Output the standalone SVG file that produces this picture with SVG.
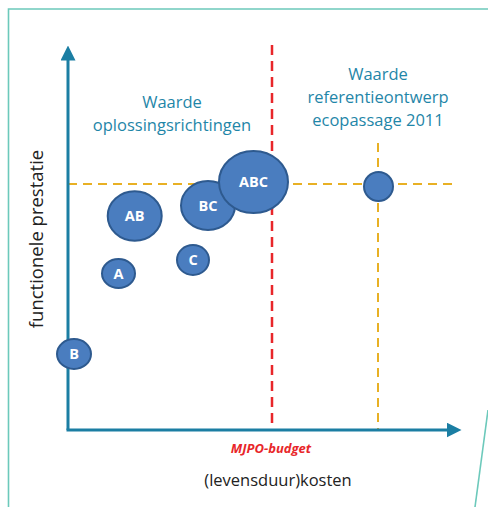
<svg xmlns="http://www.w3.org/2000/svg" width="488" height="507" viewBox="0 0 488 507">
  <style>
    .frame { fill: none; stroke: #6cc9bb; stroke-width: 1.6; }
    .axis { fill: none; stroke: #1b7ea3; stroke-width: 3; }
    .budget { fill: none; stroke: #e8262a; stroke-width: 2.5; stroke-dasharray: 10 6; }
    .ref { fill: none; stroke: #e8b024; stroke-width: 2; stroke-dasharray: 9 6; }
    .bubble { fill: #4a7dbf; stroke: #2e5a8f; stroke-width: 2; }
    .blabel { fill: #ffffff; font-family: "Open Sans", "Liberation Sans", sans-serif; font-weight: bold; font-size: 14.5px; text-anchor: middle; }
    .title { fill: #1f86a8; font-family: "Open Sans", "Liberation Sans", sans-serif; font-size: 16.5px; text-anchor: middle; }
    .axlabel { fill: #222222; font-family: "Open Sans", "Liberation Sans", sans-serif; font-size: 16.5px; text-anchor: middle; }
    .budgetlabel { fill: #e8262a; font-family: "Open Sans", "Liberation Sans", sans-serif; font-size: 13px; font-weight: bold; font-style: italic; text-anchor: middle; }
  </style>
  <defs>
    <marker id="arrow" viewBox="0 0 10 10" refX="5" refY="5" markerWidth="5" markerHeight="5" orient="auto" markerUnits="strokeWidth">
      <path d="M0,0 L10,5 L0,10 z" fill="#1b7ea3"/>
    </marker>
  </defs>

  <rect width="488" height="507" fill="#ffffff"/>

  <!-- slide frame -->
  <path class="frame" d="M8.5,507 L8.5,9 L488,9"/>
  <path class="frame" d="M488,410 L475,507"/>

  <!-- guide lines and axes -->
  <g id="connectors">
    <line class="budget" x1="272" y1="45" x2="272" y2="425"/>
    <line class="ref" x1="68" y1="184" x2="458" y2="184"/>
    <line class="ref" x1="378" y1="143" x2="378" y2="429"/>
    <path class="axis" d="M68,430 L68,53" marker-end="url(#arrow)"/>
    <path class="axis" d="M66.5,430 L454,430" marker-end="url(#arrow)"/>
  </g>

  <!-- labels -->
  <g id="title-solutions">
    <text class="title" x="172" y="108">Waarde</text>
    <text class="title" x="172" y="131">oplossingsrichtingen</text>
  </g>
  <g id="title-reference">
    <text class="title" x="378" y="80">Waarde</text>
    <text class="title" x="378" y="103">referentieontwerp</text>
    <text class="title" x="378" y="126">ecopassage 2011</text>
  </g>
  <g id="y-label">
    <text class="axlabel" transform="translate(43,239) rotate(-90)" style="font-size:18.5px">functionele prestatie</text>
  </g>
  <g id="x-label">
    <text class="axlabel" x="278" y="486">(levensduur)kosten</text>
  </g>
  <g id="budget-label">
    <text class="budgetlabel" x="271" y="453">MJPO-budget</text>
  </g>

  <!-- bubbles -->
  <g id="node-AB">
    <ellipse class="bubble" cx="134.7" cy="216" rx="27" ry="24.7"/>
    <text class="blabel" x="134.7" y="221">AB</text>
  </g>
  <g id="node-BC">
    <ellipse class="bubble" cx="208" cy="205.5" rx="27" ry="24.5"/>
    <text class="blabel" x="208" y="210.5">BC</text>
  </g>
  <g id="node-ABC">
    <ellipse class="bubble" cx="253.5" cy="182" rx="34.5" ry="31"/>
    <text class="blabel" x="253.5" y="187">ABC</text>
  </g>
  <g id="node-C">
    <ellipse class="bubble" cx="193" cy="260" rx="16" ry="15"/>
    <text class="blabel" x="193" y="265">C</text>
  </g>
  <g id="node-A">
    <ellipse class="bubble" cx="118.5" cy="273.5" rx="16.5" ry="14.5"/>
    <text class="blabel" x="118.5" y="278.5">A</text>
  </g>
  <g id="node-B">
    <ellipse class="bubble" cx="74" cy="354" rx="17" ry="15"/>
    <text class="blabel" x="74" y="359">B</text>
  </g>
  <g id="node-reference">
    <ellipse class="bubble" cx="378.5" cy="186.5" rx="14.5" ry="14.5"/>
  </g>
</svg>
